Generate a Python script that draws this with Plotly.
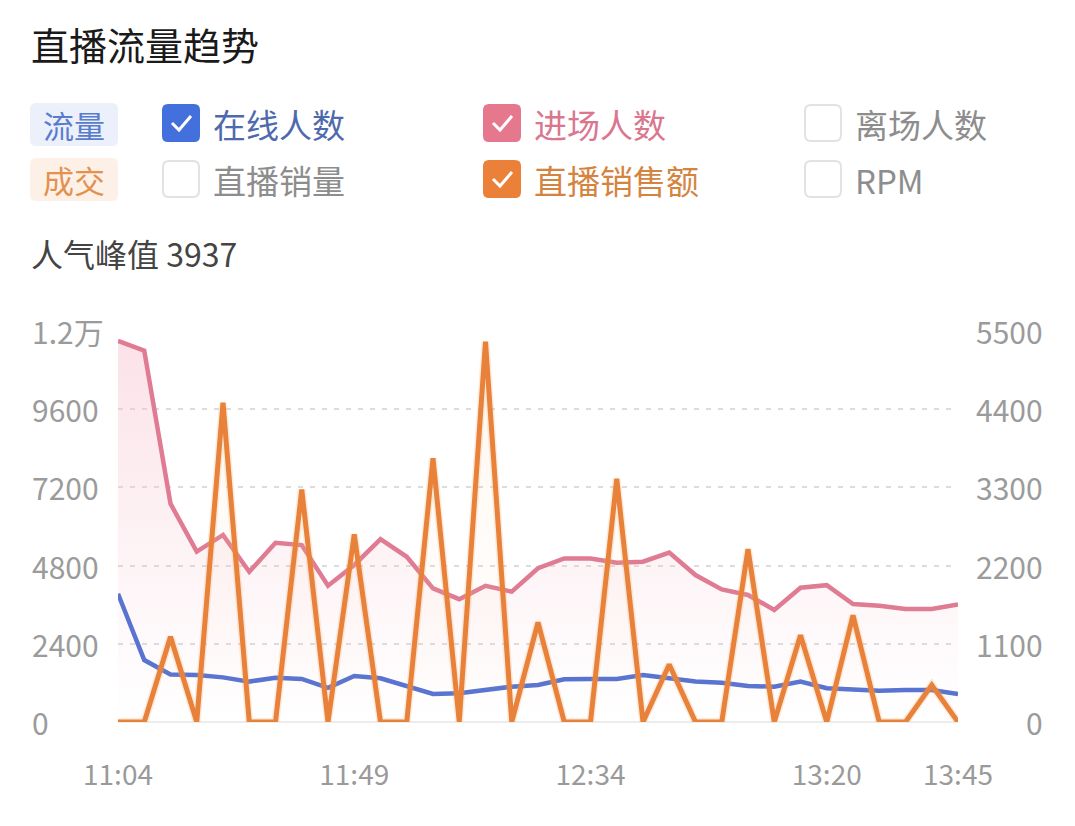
import plotly.graph_objects as go

# ---------------- data ----------------
times = ["11:04", "11:09", "11:14", "11:19", "11:24", "11:29", "11:34", "11:39", "11:44",
         "11:49", "11:54", "11:59", "12:04", "12:09", "12:14", "12:19", "12:24", "12:29",
         "12:34", "12:39", "12:44", "12:49", "12:54", "12:59", "13:04", "13:09", "13:15",
         "13:20", "13:25", "13:30", "13:35", "13:40", "13:45"]
x_tick_labels = ["11:04", "11:49", "12:34", "13:20", "13:45"]

entering = [11700, 11400, 6700, 5230, 5740, 4610, 5500, 5430, 4180, 4820, 5610,
            5070, 4100, 3770, 4180, 4000, 4720, 5020, 5020, 4890, 4920, 5200,
            4510, 4070, 3900, 3440, 4120, 4200, 3620, 3570, 3470, 3470, 3610]
online = [3937, 1900, 1460, 1440, 1370, 1240, 1360, 1320, 1050, 1410, 1340,
          1115, 860, 880, 980, 1085, 1135, 1310, 1320, 1320, 1440, 1350,
          1240, 1205, 1105, 1085, 1240, 1035, 1000, 960, 980, 980, 860]
sales = [0, 0, 1200, 0, 4490, 0, 0, 3270, 0, 2640, 0,
         0, 3710, 0, 5350, 0, 1400, 0, 0, 3420, 0, 810,
         0, 0, 2430, 0, 1220, 0, 1500, 0, 0, 520, 0]

left_ticks = [0, 2400, 4800, 7200, 9600, 12000]
left_tick_text = ["0", "2400", "4800", "7200", "9600", "1.2万"]
right_ticks = [0, 1100, 2200, 3300, 4400, 5500]
right_tick_text = ["0", "1100", "2200", "3300", "4400", "5500"]

# ---------------- layout helpers ----------------
W, H = 1075, 826
PL, PR, PT, PB = 118, 958, 331, 722
FONT = "Noto Sans CJK SC, Noto Sans, sans-serif"


def px(x):
    return (x - PL) / (PR - PL)


def py(y):
    return (PB - y) / (PB - PT)


fig = go.Figure()

# pink (进场人数) with gradient fill
fig.add_trace(go.Scatter(
    x=times, y=entering, mode="lines", yaxis="y",
    line=dict(color="#df7b92", width=4.5),
    fill="tozeroy",
    fillgradient=dict(type="vertical",
                      colorscale=[[0, "rgba(246,200,210,0.0)"], [1, "rgba(246,190,205,0.45)"]]),
    hoverinfo="skip", showlegend=False, cliponaxis=False))

# blue (在线人数)
fig.add_trace(go.Scatter(
    x=times, y=online, mode="lines", yaxis="y",
    line=dict(color="#5873d0", width=4.5),
    hoverinfo="skip", showlegend=False, cliponaxis=False))

# orange faint glow + fill
fig.add_trace(go.Scatter(
    x=times, y=sales, mode="lines", yaxis="y2",
    line=dict(color="rgba(248,170,100,0.22)", width=8),
    fill="tozeroy",
    fillgradient=dict(type="vertical",
                      colorscale=[[0, "rgba(250,215,180,0.0)"], [1, "rgba(250,210,170,0.18)"]]),
    hoverinfo="skip", showlegend=False, cliponaxis=False))
# orange (直播销售额)
fig.add_trace(go.Scatter(
    x=times, y=sales, mode="lines", yaxis="y2",
    line=dict(color="#e8823a", width=5),
    hoverinfo="skip", showlegend=False, cliponaxis=False))

shapes = []
annotations = []

TICK_FONT = dict(family=FONT, size=30, color="#9b9b9b")
for v, t in zip(left_ticks, left_tick_text):
    annotations.append(dict(x=0, xref="paper", xshift=-(PL - 30), xanchor="left",
                            y=v, yref="y", yanchor="middle", text=t, showarrow=False,
                            font=TICK_FONT))
for v, t in zip(right_ticks, right_tick_text):
    annotations.append(dict(x=1, xref="paper", xshift=(1045 - PR), xanchor="right",
                            y=v, yref="y2", yanchor="middle", text=t, showarrow=False,
                            font=TICK_FONT))

# title
annotations.append(dict(x=px(29), y=py(44), xref="paper", yref="paper", xanchor="left",
                        yanchor="middle", text="直播流量趋势", showarrow=False,
                        font=dict(family=FONT, size=38, color="#1a1a1a")))
# peak
annotations.append(dict(x=px(29), y=py(253), xref="paper", yref="paper", xanchor="left",
                        yanchor="middle", text="人气峰值 3937", showarrow=False,
                        font=dict(family=FONT, size=32, color="#444444")))


def rrect(x0, y0, x1, y1, r, fill, line_color=None, lw=0):
    path = (f"M {px(x0 + r)} {py(y0)} L {px(x1 - r)} {py(y0)} "
            f"Q {px(x1)} {py(y0)} {px(x1)} {py(y0 + r)} L {px(x1)} {py(y1 - r)} "
            f"Q {px(x1)} {py(y1)} {px(x1 - r)} {py(y1)} L {px(x0 + r)} {py(y1)} "
            f"Q {px(x0)} {py(y1)} {px(x0)} {py(y1 - r)} L {px(x0)} {py(y0 + r)} "
            f"Q {px(x0)} {py(y0)} {px(x0 + r)} {py(y0)} Z")
    return dict(type="path", xref="paper", yref="paper", path=path, fillcolor=fill,
                line=dict(color=line_color or fill, width=lw), layer="above")


def check(x0, y0):
    path = (f"M {px(x0 + 10)} {py(y0 + 19)} L {px(x0 + 17)} {py(y0 + 26)} "
            f"L {px(x0 + 29)} {py(y0 + 12)}")
    return dict(type="path", xref="paper", yref="paper", path=path,
                line=dict(color="white", width=3), layer="above")


# tags
shapes.append(rrect(30, 103, 118, 146, 6, "#ebf0fb"))
shapes.append(rrect(30, 158, 118, 201, 6, "#fdf1e7"))
annotations.append(dict(x=px(74), y=py(124), xref="paper", yref="paper", text="流量",
                        xanchor="center", yanchor="middle",
                        showarrow=False, font=dict(family=FONT, size=31, color="#5a7ccc")))
annotations.append(dict(x=px(74), y=py(180), xref="paper", yref="paper", text="成交",
                        xanchor="center", yanchor="middle",
                        showarrow=False, font=dict(family=FONT, size=31, color="#e39150")))

items = [
    (162, 104, "#4470dd", True, "在线人数", "#4f69ad"),
    (483, 104, "#e5788d", True, "进场人数", "#d9778f"),
    (804, 104, None, False, "离场人数", "#8d8d8d"),
    (162, 160, None, False, "直播销量", "#8d8d8d"),
    (483, 160, "#eb8138", True, "直播销售额", "#d58440"),
    (804, 160, None, False, "RPM", "#8d8d8d"),
]
for x0, y0, col, checked, label, tcol in items:
    if checked:
        shapes.append(rrect(x0, y0, x0 + 38, y0 + 38, 6, col))
        shapes.append(check(x0, y0))
    else:
        shapes.append(rrect(x0 + 1, y0 + 1, x0 + 37, y0 + 37, 6, "white", "#e2e2e2", 2))
    annotations.append(dict(x=px(x0 + 49), y=py(y0 + 20), xref="paper", yref="paper",
                            xanchor="left", yanchor="middle", text=label, showarrow=False,
                            font=dict(family=FONT, size=33, color=tcol)))

# baseline
shapes.append(dict(type="line", xref="paper", yref="paper", x0=0, x1=1, y0=0, y1=0,
                   line=dict(color="#e6e6e6", width=1.5), layer="below"))

fig.update_layout(
    width=W, height=H,
    margin=dict(l=PL, r=W - PR, t=PT, b=H - PB),
    paper_bgcolor="white", plot_bgcolor="white",
    font=dict(family=FONT),
    showlegend=False,
    xaxis=dict(type="category", range=[0, len(times) - 1], showgrid=False, zeroline=False,
               showline=False, ticks="", tickmode="array", tickvals=x_tick_labels,
               ticktext=x_tick_labels, ticklabelstandoff=34,
               tickfont=dict(family=FONT, size=28, color="#9a9a9a")),
    yaxis=dict(range=[0, 12000], tickvals=left_ticks[1:], showticklabels=False,
               showgrid=True, gridcolor="#dcdcdc", griddash="5px,7px", gridwidth=1.5,
               zeroline=False, showline=False, fixedrange=True),
    yaxis2=dict(range=[0, 5500], overlaying="y", side="right", showticklabels=False,
                showgrid=False, zeroline=False, showline=False),
    shapes=shapes,
    annotations=annotations,
)

fig.write_html("out.html")
